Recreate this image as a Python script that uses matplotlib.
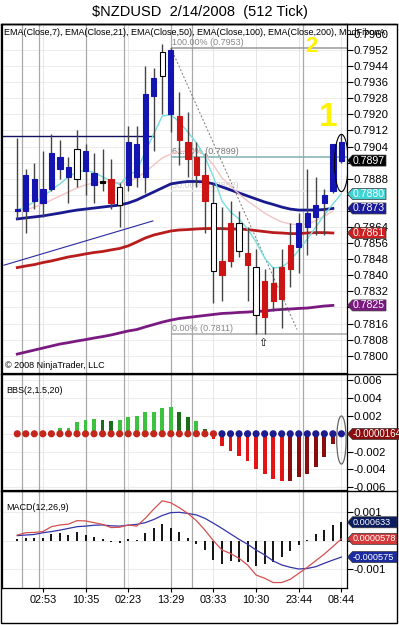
import numpy as np
import matplotlib
matplotlib.use("Agg")
import matplotlib.pyplot as plt
from matplotlib.patches import Polygon, Ellipse

plt.rcParams['font.family'] = ['Liberation Sans', 'DejaVu Sans']

W, H = 399, 625

# --- price bars (512 tick) ---
opens = [0.7872, 0.7872, 0.7877, 0.7876, 0.7883, 0.7893, 0.7889, 0.7888, 0.7892, 0.7885,
         0.7887, 0.7888, 0.7875, 0.7885, 0.7889, 0.7889, 0.7929, 0.7939, 0.7952, 0.7919,
         0.7906, 0.7899, 0.7890, 0.7842, 0.7847, 0.7866, 0.7852, 0.7851, 0.7820, 0.7837,
         0.7836, 0.7844, 0.7855, 0.7854, 0.7864, 0.7869, 0.7876, 0.7882, 0.7906]
highs = [0.7908, 0.7893, 0.7896, 0.7902, 0.7910, 0.7907, 0.7899, 0.7912, 0.7905, 0.7901,
         0.7903, 0.7898, 0.7886, 0.7914, 0.7914, 0.7944, 0.7943, 0.7955, 0.7953, 0.7931,
         0.7921, 0.7906, 0.7901, 0.7886, 0.7874, 0.7877, 0.7872, 0.7864, 0.7853, 0.7843,
         0.7844, 0.7853, 0.7866, 0.7871, 0.7893, 0.7889, 0.7883, 0.7905, 0.7910]
lows = [0.7868, 0.7861, 0.7873, 0.7869, 0.7882, 0.7888, 0.7876, 0.7884, 0.7880, 0.7876,
        0.7882, 0.7873, 0.7864, 0.7882, 0.7884, 0.7881, 0.7902, 0.7920, 0.7911, 0.7895,
        0.7889, 0.7884, 0.7861, 0.7826, 0.7827, 0.7844, 0.7849, 0.7827, 0.7811, 0.7811,
        0.7822, 0.7814, 0.7834, 0.7841, 0.7850, 0.7860, 0.7860, 0.7881, 0.7896]
closes = [0.7873, 0.7890, 0.7888, 0.7883, 0.7901, 0.7899, 0.7894, 0.7903, 0.7902, 0.7891,
          0.7886, 0.7876, 0.7884, 0.7906, 0.7905, 0.7930, 0.7938, 0.7951, 0.7920, 0.7907,
          0.7898, 0.7890, 0.7877, 0.7876, 0.7840, 0.7847, 0.7866, 0.7845, 0.7844, 0.7819,
          0.7827, 0.7828, 0.7843, 0.7866, 0.7871, 0.7875, 0.7880, 0.7905, 0.7897]
paint = ['b', 'b', 'b', 'b', 'b', 'b', 'b', 'w', 'b', 'b',
         'k', 'r', 'w', 'b', 'b', 'b', 'b', 'w', 'b', 'r',
         'r', 'r', 'r', 'w', 'r', 'r', 'w', 'r', 'w', 'r',
         'r', 'r', 'r', 'b', 'b', 'b', 'b', 'b', 'b']

ema7 = [0.78724, 0.78742, 0.78764, 0.78789, 0.78824, 0.78854, 0.78889, 0.78913, 0.78921, 0.78911,
        0.78889, 0.78869, 0.78851, 0.78898, 0.78918, 0.79013, 0.79102, 0.79192, 0.79197, 0.79162,
        0.79112, 0.79058, 0.78988, 0.78889, 0.78769, 0.78714, 0.78680, 0.78630, 0.78565, 0.78486,
        0.78436, 0.78441, 0.78471, 0.78525, 0.78580, 0.78640, 0.78700, 0.78754, 0.78804]
ema21 = [0.78714, 0.78724, 0.78739, 0.78754, 0.78774, 0.78794, 0.78814, 0.78834, 0.78849, 0.78859,
         0.78864, 0.78864, 0.78859, 0.78864, 0.78884, 0.78913, 0.78948, 0.78983, 0.79003, 0.79013,
         0.79018, 0.79018, 0.78998, 0.78948, 0.78884, 0.78844, 0.78804, 0.78769, 0.78739, 0.78709,
         0.78685, 0.78665, 0.78655, 0.78650, 0.78655, 0.78670, 0.78694, 0.78719]
ema50 = [0.78680, 0.78685, 0.78690, 0.78695, 0.78702, 0.78709, 0.78717, 0.78724, 0.78729, 0.78734,
         0.78739, 0.78744, 0.78749, 0.78759, 0.78774, 0.78794, 0.78814, 0.78834, 0.78854, 0.78861,
         0.78866, 0.78866, 0.78864, 0.78854, 0.78839, 0.78824, 0.78809, 0.78794, 0.78779, 0.78764,
         0.78752, 0.78739, 0.78729, 0.78724, 0.78724, 0.78724, 0.78727, 0.78732]
ema100 = [0.78438, 0.78446, 0.78453, 0.78463, 0.78471, 0.78481, 0.78491, 0.78498, 0.78506, 0.78513,
          0.78518, 0.78526, 0.78533, 0.78546, 0.78565, 0.78585, 0.78600, 0.78610, 0.78620, 0.78625,
          0.78627, 0.78630, 0.78632, 0.78632, 0.78632, 0.78630, 0.78630, 0.78627, 0.78622, 0.78617,
          0.78612, 0.78610, 0.78607, 0.78607, 0.78610, 0.78612, 0.78612, 0.78610]
ema200 = [0.78008, 0.78018, 0.78028, 0.78038, 0.78048, 0.78058, 0.78065, 0.78073, 0.78080, 0.78088,
          0.78095, 0.78103, 0.78113, 0.78123, 0.78130, 0.78143, 0.78155, 0.78167, 0.78177, 0.78185,
          0.78190, 0.78195, 0.78200, 0.78205, 0.78210, 0.78212, 0.78215, 0.78217, 0.78220, 0.78222,
          0.78227, 0.78230, 0.78232, 0.78235, 0.78237, 0.78242, 0.78247, 0.78250]

# fibonacci drawing (anchors: swing high bar 18, swing low)
fib_levels = [0.7953, 0.7899, 0.7882, 0.7811]
fib_names = ['100.00% (0.7953)', '61.80% (0.7899)', '50.00% (0.7882)', '0.00% (0.7811)']
fib_colors = ['#999999', '#7fb0b0', '#e4e4e4', '#aaaaaa']
fib_text_colors = ['#888888', '#777777', '#d0d0d0', '#888888']
fib_start = 18
fib_diag_x = [18, 32.8]
fib_diag_y = [0.7953, 0.7813]
hline_level, hline_end = 0.7909, 16
trend_x = [-1.56, 15.9]
trend_y = [0.7845, 0.7867]

# --- BBS(2,1.5,20) ---
bbs = [-0.0003, 0, 0, 0, 0.0003, 0.0006, 0.0007, 0.0013, 0.0016, 0.0017,
       0.0016, 0.0014, 0.0015, 0.0019, 0.0020, 0.0024, 0.0025, 0.0029, 0.0030, 0.0025,
       0.0019, 0.0014, 0.0005, -0.0006, -0.0014, -0.0019, -0.0025, -0.0031, -0.0040, -0.0045,
       -0.0051, -0.0053, -0.0053, -0.0049, -0.0045, -0.0037, -0.0026, -0.0011, -0.0000164]
bbs_shade = ['dr', 'g', 'g', 'g', 'g', 'g', 'g', 'g', 'g', 'g',
             'dg', 'dg', 'g', 'g', 'g', 'g', 'g', 'g', 'g', 'dg',
             'dg', 'g', 'dg', 'r', 'r', 'r', 'r', 'r', 'r', 'r',
             'r', 'r', 'dr', 'dr', 'dr', 'dr', 'dr', 'dr', 'dr']
squeeze_on = [True] * 24 + [False] * 15

# --- MACD(12,26,9) ---
macd = [0.00019, 0.00027, 0.00028, 0.00031, 0.00048, 0.00054, 0.00057, 0.00069, 0.00068, 0.00062,
        0.00056, 0.00045, 0.00046, 0.00054, 0.00050, 0.00077, 0.00109, 0.00138, 0.00131, 0.00114,
        0.00094, 0.00069, 0.00036, -0.00001, -0.00033, -0.00045, -0.00062, -0.00085, -0.00120, -0.00131,
        -0.00146, -0.00146, -0.00135, -0.00114, -0.00093, -0.00070, -0.00047, -0.00021, 0.0000578]
signal = [0.00017, 0.00019, 0.00021, 0.00027, 0.00031, 0.00036, 0.00042, 0.00048, 0.00050, 0.00053,
          0.00054, 0.00051, 0.00050, 0.00053, 0.00056, 0.00062, 0.00073, 0.00087, 0.00097, 0.00098,
          0.00094, 0.00089, 0.00077, 0.00060, 0.00042, 0.00023, 0.00004, -0.00013, -0.00033, -0.00050,
          -0.00071, -0.00085, -0.00093, -0.00099, -0.00097, -0.00091, -0.00079, -0.00068, -0.000575]
diff = [0.00005, 0.00010, 0.00007, 0.00010, 0.00023, 0.00025, 0.00020, 0.00028, 0.00020, 0.00013,
        0.00006, -0.00006, -0.00010, 0.00006, 0.00003, 0.00025, 0.00042, 0.00058, 0.00045, 0.00028,
        0.00008, -0.00011, -0.00032, -0.00066, -0.00080, -0.00071, -0.00075, -0.00075, -0.00087, -0.00080,
        -0.00075, -0.00058, -0.00038, -0.00014, 0.00003, 0.00023, 0.00035, 0.00055, 0.000633]

time_ticks = [3, 8, 13, 18, 23, 28, 33, 38]
time_labels = ['02:53', '10:35', '02:23', '13:29', '03:33', '10:30', '23:44', '08:44']
session_breaks = [0.5, 2.5, 8, 12.5, 18, 20.5, 33.5]

fig = plt.figure(figsize=(W / 100, H / 100), dpi=100)


def rect(x0, y0, x1, y1):
    """pixel box (top-left origin) -> figure fraction rect"""
    return [x0 / W, 1 - y1 / H, (x1 - x0) / W, (y1 - y0) / H]


def setup(ax, ylim, yticks, fmt, flagged, tol):
    ax.set_xlim(-1.79, 38.62)
    ax.set_ylim(*ylim)
    ax.yaxis.tick_right()
    ax.set_yticks(yticks)
    # labels sitting under a value flag are not drawn
    labels = ['' if any(abs(v - f) < tol for f in flagged) else fmt.format(v) for v in yticks]
    ax.set_yticklabels(labels)
    ax.tick_params(axis='y', direction='out', length=4, width=0.8, labelsize=8.2, pad=1)
    ax.tick_params(axis='x', length=0)
    ax.set_xticks([])
    for v in yticks:
        ax.axhline(v, color='#ececec', lw=0.7, zorder=0)
    for t in time_ticks:
        ax.axvline(t, color='#e6e6e6', lw=0.7, zorder=0)
    for s in session_breaks:
        ax.axvline(s, color='#a9a9a9', lw=0.9, zorder=0)
    for sp in ax.spines.values():
        sp.set_linewidth(0.9)


def flag(ax, value, text, fc, right=386, size=7.6):
    y = ax.transData.transform((0, value))[1]
    x0, h = 347.5, 11
    pts = [(x0, y), (x0 + 5, y + h / 2), (right, y + h / 2), (right, y - h / 2), (x0 + 5, y - h / 2)]
    pts = [(px / W, py / H) for px, py in pts]
    fig.add_artist(Polygon(pts, closed=True, transform=fig.transFigure,
                           fc=fc, ec='#333333', lw=0.5, zorder=5))
    fig.text((x0 + 5) / W, y / H, text, color='white', fontsize=size,
             va='center', ha='left', zorder=6)


x = np.arange(len(closes))
main_flags = [closes[-1], ema7[-1], ema50[-1], ema100[-1], ema200[-1]]

# ---------------- price panel ----------------
ax1 = fig.add_axes(rect(2, 24, 346.7, 373))
setup(ax1, (0.77914, 0.79649), np.round(np.arange(0.7800, 0.79601, 0.0008), 4), '{:.4f}',
      main_flags, 0.00025)

for lvl, name, c, tc in zip(fib_levels, fib_names, fib_colors, fib_text_colors):
    ax1.hlines(lvl, fib_start, 38.62, color=c, lw=1.1, zorder=1)
    ax1.text(fib_start + 0.1, lvl + 0.00004, name, color=tc, fontsize=6.5, va='bottom', zorder=1)
ax1.plot(fib_diag_x, fib_diag_y, color='#777777', lw=0.7, ls=(0, (2, 2)), zorder=1)
ax1.hlines(hline_level, -1.79, hline_end, color='#101060', lw=1.0, zorder=2)
ax1.plot(trend_x, trend_y, color='#2a2aa0', lw=0.8, zorder=2)

ax1.plot(x[:len(ema200)], ema200, color='#7a1a80', lw=2.0, zorder=2)
ax1.plot(x[:len(ema100)], ema100, color='#b81c1c', lw=2.0, zorder=2)
ax1.plot(x[:len(ema50)], ema50, color='#1a1a90', lw=2.0, zorder=2)
ax1.plot(x[:len(ema21)], ema21, color='#f2c4c4', lw=1.0, zorder=2)
ax1.plot(x[:len(ema7)], ema7, color='#78dede', lw=1.0, zorder=2)

face = {'b': '#1414b0', 'r': '#cc1414', 'w': 'white', 'k': 'black'}
edge = {'b': '#1414b0', 'r': '#cc1414', 'w': 'black', 'k': 'black'}
o = np.array(opens)
c = np.array(closes)
bottoms = np.minimum(o, c)
heights = np.maximum(np.abs(c - o), 0.00002)
ax1.vlines(x, lows, highs, color='#454545', lw=1.0, zorder=3)
ax1.bar(x, heights, bottom=bottoms, width=0.62,
        color=[face[p] for p in paint], edgecolor=[edge[p] for p in paint],
        lw=0.8, zorder=4)

ax1.text(28.8, min(lows) - 0.00045, '\u21e7', fontsize=8, ha='center', va='center', zorder=4)
ax1.add_patch(Ellipse((38, 0.78958), 1.6, 0.00285, fill=False, ec='black', lw=0.8, zorder=5))
ax1.text(34.5, 0.79535, '2', color='#fff200', fontsize=16, fontweight='bold',
         ha='center', va='center', zorder=6)
ax1.text(36.4, 0.79182, '1', color='#fff200', fontsize=24, fontweight='bold',
         ha='center', va='center', zorder=6)
ax1.text(0.006, 0.975, 'EMA(Close,7), EMA(Close,21), EMA(Close,50), EMA(Close,100), '
         'EMA(Close,200), ModFibonA', transform=ax1.transAxes, fontsize=6.5,
         va='center', ha='left', clip_on=False, zorder=6)
ax1.text(0.01, 0.008, '\u00a9 2008 NinjaTrader, LLC', transform=ax1.transAxes,
         fontsize=6.5, va='bottom', ha='left')

# ---------------- BBS panel ----------------
ax2 = fig.add_axes(rect(2, 374, 346.7, 490))
setup(ax2, (-0.00632, 0.00672), [-0.006, -0.004, -0.002, 0.0, 0.002, 0.004, 0.006], '{:.3f}',
      [bbs[-1]], 0.001)
shade = {'g': '#3cc23c', 'dg': '#1a6e1a', 'r': '#e41414', 'dr': '#8a0c0c'}
ax2.bar(x, bbs, width=0.45, color=[shade[s] for s in bbs_shade], zorder=2)
ax2.scatter(x, np.zeros(len(x)), s=17, zorder=3,
            c=['#c4261c' if on else '#1c1c90' for on in squeeze_on])
ax2.add_patch(Ellipse((38, -0.0007), 1.1, 0.0054, fill=False, ec='#666666', lw=0.9, zorder=4))
ax2.text(0.012, 0.86, 'BBS(2,1.5,20)', transform=ax2.transAxes, fontsize=6.5, va='center')

# ---------------- MACD panel ----------------
ax3 = fig.add_axes(rect(2, 491, 346.7, 588))
setup(ax3, (-0.00165, 0.00172), [-0.001, 0.0, 0.001], '{:.3f}', [macd[-1]], 0.0003)
ax3.vlines(x, 0, diff, color='black', lw=1.3, zorder=2)
ax3.plot(x, signal, color='#3434a8', lw=0.9, zorder=3)
ax3.plot(x, macd, color='#d45050', lw=0.9, zorder=3)
ax3.set_xticks(time_ticks)
ax3.set_xticklabels(time_labels)
ax3.tick_params(axis='x', direction='out', length=3, labelsize=7.8, pad=2)
ax3.text(0.012, 0.83, 'MACD(12,26,9)', transform=ax3.transAxes, fontsize=6.5, va='center')

# frames and dividers
for yy in (24, 373.5, 490.5):
    fig.add_artist(plt.Line2D([1 / W, 397 / W], [1 - yy / H, 1 - yy / H], color='black', lw=1.0))
fig.add_artist(plt.Rectangle((1 / W, 1 - 623 / H), 396 / W, 599 / H, fill=False,
                             ec='black', lw=1.0, transform=fig.transFigure))
fig.text(0.5, 1 - 12 / H, '$NZDUSD  2/14/2008  (512 Tick)', fontsize=10.5,
         ha='center', va='center')

# value flags on the right axis
flag(ax1, closes[-1], '{:.4f}'.format(closes[-1]), '#000000')
flag(ax1, ema7[-1], '{:.4f}'.format(ema7[-1]), '#3fd4d4')
flag(ax1, ema50[-1], '{:.4f}'.format(ema50[-1]), '#1a1a9a')
flag(ax1, ema100[-1], '{:.4f}'.format(ema100[-1]), '#cc2020')
flag(ax1, ema200[-1], '{:.4f}'.format(ema200[-1]), '#7a1a80')
flag(ax2, bbs[-1], '{:.7f}'.format(bbs[-1]), '#8a0c0c', right=399, size=7.0)
flag(ax3, diff[-1], '{:.6f}'.format(diff[-1]), '#0c1c60', right=397, size=6.6)
flag(ax3, macd[-1], '{:.7f}'.format(macd[-1]), '#d43a3a', right=397, size=6.6)
flag(ax3, signal[-1], '{:.6f}'.format(signal[-1]), '#1c2ca0', right=397, size=6.6)

fig.savefig('out.png', dpi=100)
